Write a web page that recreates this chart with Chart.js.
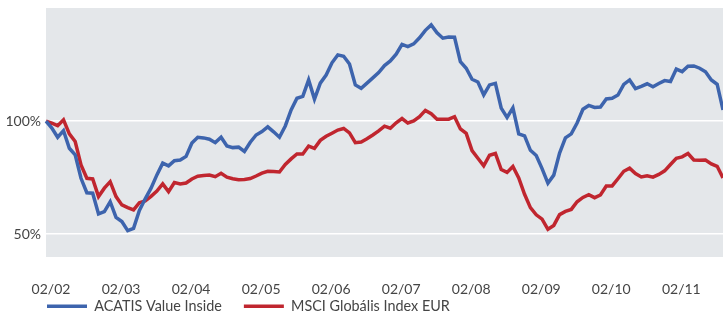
<!DOCTYPE html>
<html>
<head>
<meta charset="utf-8">
<script src="https://cdn.jsdelivr.net/npm/chart.js@4.4.0/dist/chart.umd.min.js"></script>
<style>
  html, body { margin: 0; padding: 0; background: #fff; }
  #wrap { width: 723px; height: 312px; }
</style>
</head>
<body>
<div id="wrap"><canvas id="myChart" width="723" height="312"></canvas></div>
<script>
// monthly points, Feb 2002 .. Oct 2011 (index 0 = 02/02)
const startYear = 2002;
const startMonth = 2;
const yearLabels = ['02/02', '02/03', '02/04', '02/05', '02/06', '02/07', '02/08', '02/09', '02/10', '02/11'];
const valueTicks = [50, 100];

const acatis = [
  100, 97.0, 92.9, 95.8, 88.0, 85.1, 74.7, 68.3, 68.1, 58.9, 59.9, 64.3,
  57.4, 55.5, 51.5, 52.5, 60.4, 65.6, 70.3, 76.2, 81.4, 80.2, 82.5, 82.8,
  84.4, 90.3, 92.9, 92.6, 92.0, 90.5, 92.9, 89.0, 88.3, 88.5, 86.6, 90.7,
  93.9, 95.4, 97.5, 95.3, 92.9, 97.9, 105.0, 110.2, 111.0, 118.3, 109.8, 116.9,
  120.5, 125.9, 129.4, 128.8, 125.4, 116.1, 114.6, 116.9, 119.2, 121.6, 124.7, 126.7,
  129.7, 134.1, 133.1, 134.3, 137.0, 140.3, 142.7, 139.2, 136.8, 137.3, 137.2, 126.4,
  123.5, 118.6, 117.4, 111.7, 116.1, 116.8, 105.8, 101.7, 105.9, 94.4, 93.5, 87.1,
  84.8, 79.0, 72.5, 76.1, 85.9, 92.6, 94.4, 99.2, 105.3, 107.0, 106.1, 106.3,
  109.9, 110.2, 111.6, 116.3, 118.3, 114.5, 115.5, 116.6, 115.3, 116.7, 118.0, 117.6,
  123.1, 122.0, 124.4, 124.5, 123.5, 121.9, 118.3, 116.4, 105.0
];

const msci = [
  100, 99.1, 98.0, 100.6, 94.4, 91.0, 80.6, 74.7, 74.4, 66.6, 70.3, 73.2,
  66.6, 62.9, 61.7, 60.7, 63.9, 64.7, 66.7, 69.0, 72.2, 68.8, 72.8, 72.2,
  72.6, 74.4, 75.6, 75.9, 76.1, 75.4, 76.9, 75.2, 74.5, 74.1, 74.2, 74.6,
  75.7, 77.0, 77.8, 77.7, 77.5, 80.8, 83.3, 85.5, 85.5, 89.0, 88.0, 91.5,
  93.3, 94.7, 96.1, 96.8, 94.8, 90.5, 90.8, 92.2, 93.9, 95.7, 97.8, 96.9,
  99.3, 101.2, 99.2, 100.1, 102.0, 104.8, 103.3, 100.9, 100.9, 100.9, 102.0, 96.6,
  94.6, 87.0, 83.6, 80.2, 84.9, 85.7, 78.6, 77.3, 79.9, 74.9, 67.6, 61.7,
  58.5, 56.6, 52.1, 53.8, 58.6, 60.0, 60.9, 64.3, 66.2, 67.4, 66.1, 67.3,
  71.3, 71.3, 74.5, 77.8, 79.2, 76.8, 75.3, 75.8, 75.2, 76.4, 78.0, 80.8,
  83.6, 84.2, 85.7, 82.8, 82.7, 82.8, 81.1, 80.0, 74.9
];

const monthLabels = [];
for (let i = 0; i < acatis.length; i++) {
  const m = (startMonth - 1 + i) % 12 + 1;
  const y = startYear + Math.floor((startMonth - 1 + i) / 12);
  monthLabels.push(String(m).padStart(2, '0') + '/' + String(y % 100).padStart(2, '0'));
}

const plotBg = {
  id: 'plotBg',
  beforeDraw(chart) {
    const {ctx, chartArea: a} = chart;
    ctx.save();
    ctx.fillStyle = '#e4e7ea';
    ctx.fillRect(a.left, a.top, a.right - a.left, a.bottom - a.top);
    ctx.restore();
  }
};

// legend sits under the tick labels, lined up with the plot's left edge
const legendPlace = {
  id: 'legendPlace',
  afterLayout(chart) {
    const lg = chart.legend;
    lg.left += 18;
    lg.right += 18;
    lg.top = 277;
    lg.bottom = 312;
    lg.height = 35;
  }
};

const textColor = '#454545';
const font = {family: 'Lato', size: 14};

const ctx = document.getElementById('myChart').getContext('2d');
const myChart = new Chart(ctx, {
  type: 'line',
  data: {
    labels: monthLabels,
    datasets: [{
      label: 'ACATIS Value Inside',
      data: acatis,
      borderColor: '#3d64ad',
      backgroundColor: '#3d64ad',
      borderWidth: 3.5,
      pointRadius: 0,
      tension: 0
    }, {
      label: 'MSCI Globális Index EUR',
      data: msci,
      borderColor: '#c0262f',
      backgroundColor: '#c0262f',
      borderWidth: 3.5,
      pointRadius: 0,
      tension: 0
    }]
  },
  options: {
    responsive: false,
    animation: false,
    devicePixelRatio: 1,
    layout: {padding: {left: 7, right: 0, top: 8, bottom: 0}},
    scales: {
      x: {
        type: 'category',
        offset: false,
        grid: {display: false},
        border: {display: false},
        ticks: {
          autoSkip: false,
          maxRotation: 0,
          padding: 16,
          labelOffset: 5,
          color: textColor,
          font: font,
          callback: function (val, idx) {
            return idx % 12 === 0 ? yearLabels[idx / 12] : null;
          }
        },
        afterFit(scale) { scale.height = 54; }
      },
      y: {
        min: 39.8,
        max: 150.2,
        grid: {color: '#ffffff', lineWidth: 1.5, drawTicks: false},
        border: {display: false},
        ticks: {
          padding: 5,
          color: textColor,
          font: font,
          callback: v => v + '%'
        },
        afterBuildTicks(scale) { scale.ticks = valueTicks.map(v => ({value: v})); },
        afterFit(scale) {
          scale.width = 39;
          scale.paddingTop = 0;
          scale.paddingBottom = 0;
        }
      }
    },
    plugins: {
      legend: {
        position: 'bottom',
        align: 'start',
        maxHeight: 1,
        labels: {
          usePointStyle: true,
          pointStyle: 'line',
          pointStyleWidth: 40,
          padding: 22,
          color: textColor,
          font: {family: 'Lato', size: 14.4}
        }
      },
      tooltip: {enabled: false}
    }
  },
  plugins: [plotBg, legendPlace]
});
</script>
</body>
</html>
